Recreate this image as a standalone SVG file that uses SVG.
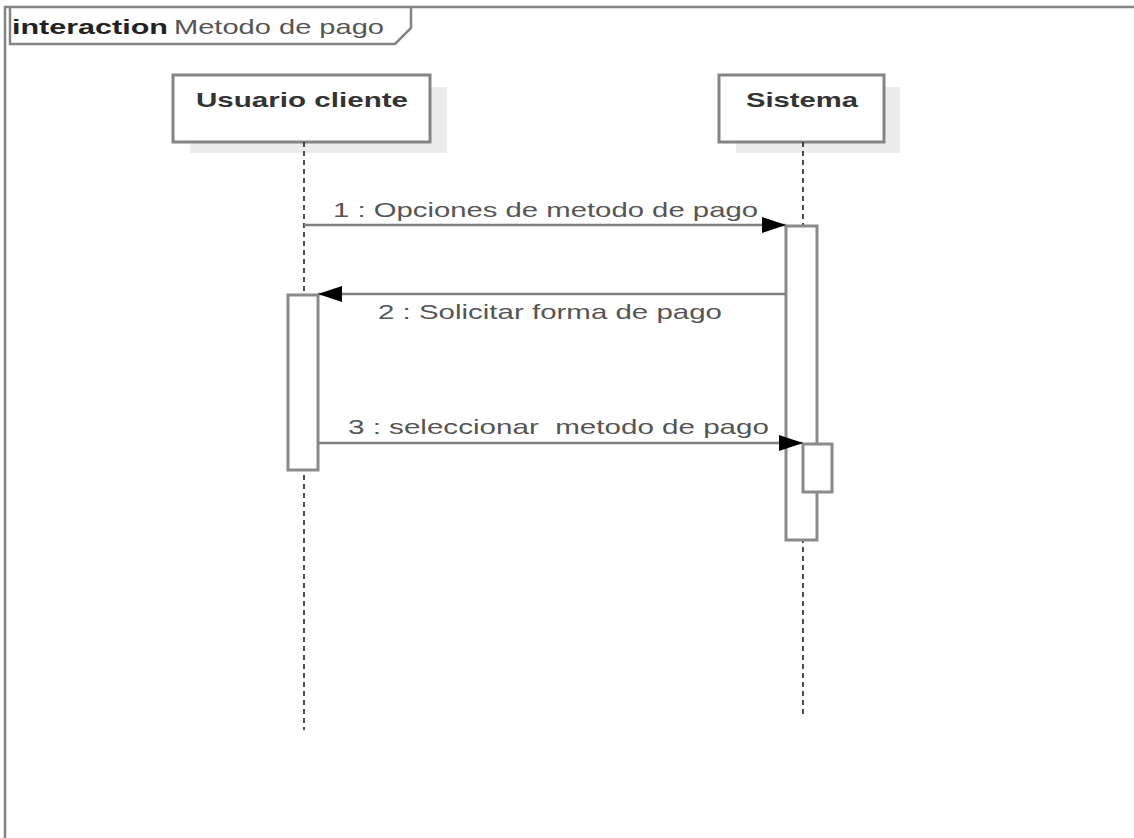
<svg xmlns="http://www.w3.org/2000/svg" width="1134" height="838" viewBox="0 0 1134 838">
<style>
  .frame{fill:none;stroke:#848484;stroke-width:2.5}
  .box{fill:#fff;stroke:#848484;stroke-width:3}
  .shadow{fill:#ececec;stroke:none}
  .life{stroke:#222;stroke-width:1.6;stroke-dasharray:5,4;fill:none}
  .act{fill:#fff;stroke:#8a8a8a;stroke-width:3}
  .msg{stroke:#808080;stroke-width:2.5;fill:none}
  .name{font-family:"Liberation Sans",Arial,sans-serif;font-size:21px;font-weight:bold;fill:#333}
  .lbl{font-family:"Liberation Sans",Arial,sans-serif;font-size:21px;fill:#555}
</style>
<defs>
  <marker id="arr" markerWidth="26" markerHeight="20" refX="24" refY="10" orient="auto" markerUnits="userSpaceOnUse">
    <path d="M0,2 L24,10 L0,18 Z" fill="#000"/>
  </marker>
</defs>
<rect width="1134" height="838" fill="#fff"/>
<g id="frame">
  <path class="frame" d="M5,838 V7 H1134"/>
  <path class="frame" d="M10,7 V44 H395 L411,28 V7"/>
  <text x="12" y="34" font-family="'Liberation Sans',Arial,sans-serif" font-size="21" font-weight="bold" fill="#222" textLength="156" lengthAdjust="spacingAndGlyphs">interaction</text>
  <text x="174" y="34" class="lbl" fill="#666" textLength="210" lengthAdjust="spacingAndGlyphs">Metodo de pago</text>
</g>
<g id="usuario">
  <rect class="shadow" x="190" y="87" width="257" height="66"/>
  <rect class="box" x="173" y="75" width="257" height="67"/>
  <text class="name" x="196" y="107" textLength="212" lengthAdjust="spacingAndGlyphs">Usuario cliente</text>
  <line class="life" x1="304" y1="142" x2="304" y2="730"/>
  <rect class="act" x="288" y="295" width="30" height="175"/>
</g>
<g id="sistema">
  <rect class="shadow" x="736" y="87" width="164" height="66"/>
  <rect class="box" x="719" y="75" width="165" height="67"/>
  <text class="name" x="746" y="107" textLength="112" lengthAdjust="spacingAndGlyphs">Sistema</text>
  <line class="life" x1="803" y1="142" x2="803" y2="714"/>
  <rect class="act" x="786" y="226" width="31" height="314"/>
  <rect class="act" x="803" y="444" width="29" height="48"/>
</g>
<g id="connectors">
  <line class="msg" x1="304" y1="225" x2="786" y2="225" marker-end="url(#arr)"/>
  <text class="lbl" x="333" y="217" textLength="425" lengthAdjust="spacingAndGlyphs">1 : Opciones de metodo de pago</text>
  <line class="msg" x1="786" y1="294" x2="318" y2="294" marker-end="url(#arr)"/>
  <text class="lbl" x="378" y="319" textLength="344" lengthAdjust="spacingAndGlyphs">2 : Solicitar forma de pago</text>
  <line class="msg" x1="318" y1="443" x2="803" y2="443" marker-end="url(#arr)"/>
  <text class="lbl" x="348" y="434" textLength="421" lengthAdjust="spacingAndGlyphs" xml:space="preserve">3 : seleccionar  metodo de pago</text>
</g>
</svg>
